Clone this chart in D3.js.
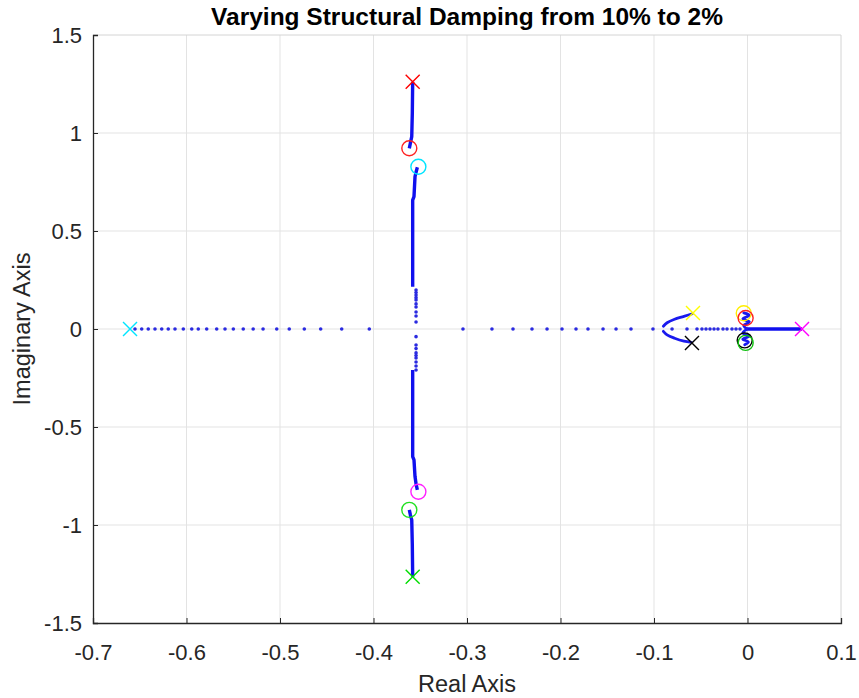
<!DOCTYPE html>
<html>
<head>
<meta charset="utf-8">
<script src="https://cdn.jsdelivr.net/npm/d3@7"></script>
<style>
  body { margin: 0; background: #fff; }
  text { font-family: "Liberation Sans", Arial, sans-serif; }
</style>
</head>
<body>
<div id="chart"></div>
<script>
// tick values
const xTicks = [-0.7, -0.6, -0.5, -0.4, -0.3, -0.2, -0.1, 0, 0.1];
const yTicks = [-1.5, -1, -0.5, 0, 0.5, 1, 1.5];

// sparse dots on the real axis (real parts, imag = 0)
const realDotsLeft = [-0.6551, -0.6479, -0.6409, -0.6337, -0.6265, -0.6195, -0.6123, -0.6034,
  -0.5944, -0.5874, -0.5784, -0.5677, -0.5588, -0.5499, -0.5393, -0.5287, -0.5181, -0.5035,
  -0.4901, -0.4740, -0.4565, -0.4340, -0.4045];
const realDotsRight = [-0.3043, -0.2733, -0.2508, -0.2305, -0.2144, -0.1984, -0.1834, -0.1706,
  -0.1545, -0.1406, -0.1246, -0.1011];
const realDotsNear = [-0.0807, -0.0647, -0.0540, -0.0487, -0.0444, -0.0401, -0.0358, -0.0316,
  -0.0262, -0.0219, -0.0166, -0.0123, -0.0080];

// sparse dots near the axis on the vertical branches [re, im]
const vertDots = [[-0.3545, 0.199], [-0.3545, 0.186], [-0.3545, 0.173], [-0.3545, 0.160],
  [-0.3545, 0.148], [-0.3545, 0.128], [-0.3545, 0.112], [-0.3545, 0.087], [-0.3545, 0.066],
  [-0.3545, 0.036], [-0.3545, -0.039], [-0.3545, -0.082], [-0.3545, -0.100], [-0.3545, -0.122],
  [-0.3545, -0.135], [-0.3545, -0.148], [-0.3545, -0.168], [-0.3545, -0.189], [-0.3545, -0.209]];

// dense branches drawn as lines [re, im]
const branchTop = [[-0.3581, 1.262], [-0.3585, 1.10], [-0.3591, 0.981], [-0.3605, 0.95], [-0.3617, 0.922]];
const branchBottom = [[-0.3581, -1.264], [-0.3585, -1.10], [-0.3591, -0.974], [-0.3605, -0.95], [-0.3617, -0.923]];
const branchUpperMid = [[-0.3531, 0.825], [-0.3545, 0.80], [-0.3556, 0.777], [-0.3567, 0.675],
  [-0.3581, 0.658], [-0.3581, 0.40], [-0.3581, 0.216]];
const branchLowerMid = [[-0.3531, -0.821], [-0.3545, -0.79], [-0.3556, -0.753], [-0.3567, -0.668],
  [-0.3581, -0.651], [-0.3581, -0.40], [-0.3581, -0.209]];
const arcUpper = [[-0.059, 0.078], [-0.068, 0.064], [-0.078, 0.050], [-0.086, 0.032], [-0.090, 0.014]];
const arcLower = [[-0.090, -0.012], [-0.086, -0.030], [-0.078, -0.047], [-0.068, -0.062], [-0.060, -0.068]];
const clusterUpper = [[-0.004, 0.082], [0.002, 0.070], [-0.005, 0.052], [0.002, 0.036], [-0.004, 0.018], [-0.001, 0.002]];
const clusterLower = [[-0.001, -0.002], [-0.005, -0.020], [0.002, -0.036], [-0.005, -0.052], [0.001, -0.066], [-0.003, -0.080]];
const realLineRight = [[-0.002, 0], [0.0583, 0]];

// start markers (x) and end markers (o)
const crossRe = [-0.3581, -0.3581, -0.6604, -0.0583, -0.0594, 0.0583];
const crossIm = [1.262, -1.264, 0, 0.082, -0.071, 0];
const crossColor = ["#ff0000", "#00dd00", "#00e5ff", "#ffff00", "#000000", "#ff00ff"];
const circRe = [-0.3617, -0.3617, -0.3520, -0.3520, -0.0040, -0.0020, -0.0030, -0.0020];
const circIm = [0.922, -0.923, 0.828, -0.830, 0.080, 0.056, -0.058, -0.071];
const circColor = ["#ff2020", "#20e020", "#00e5ff", "#ff20ff", "#ffee00", "#ff2020", "#000000", "#10c010"];

const W = 859, H = 698;
const margin = {left: 93, right: 18, top: 35, bottom: 75};

const svg = d3.select("#chart").append("svg")
  .attr("width", W).attr("height", H);

const x = d3.scaleLinear().domain([-0.7, 0.1]).range([margin.left, W - margin.right]);
const y = d3.scaleLinear().domain([-1.5, 1.5]).range([H - margin.bottom, margin.top]);

// grid
svg.append("g").selectAll("line").data(xTicks.slice(1, -1)).enter().append("line")
  .attr("x1", d => x(d)).attr("x2", d => x(d))
  .attr("y1", y(-1.5)).attr("y2", y(1.5))
  .attr("stroke", "#e3e3e3").attr("stroke-width", 1);
svg.append("g").selectAll("line").data(yTicks.slice(1, -1)).enter().append("line")
  .attr("x1", x(-0.7)).attr("x2", x(0.1))
  .attr("y1", d => y(d)).attr("y2", d => y(d))
  .attr("stroke", "#e3e3e3").attr("stroke-width", 1);

// box (top/right light)
svg.append("line").attr("x1", x(-0.7)).attr("x2", x(0.1)).attr("y1", y(1.5)).attr("y2", y(1.5))
  .attr("stroke", "#d4d4d4");
svg.append("line").attr("x1", x(0.1)).attr("x2", x(0.1)).attr("y1", y(1.5)).attr("y2", y(-1.5))
  .attr("stroke", "#d4d4d4");

// axes
const fmt = d => d3.format("")(d).replace("−", "-");
const xAxis = svg.append("g").attr("transform", `translate(0,${y(-1.5)})`)
  .call(d3.axisBottom(x).tickValues(xTicks).tickSize(-5).tickPadding(21).tickFormat(fmt));
const yAxis = svg.append("g").attr("transform", `translate(${x(-0.7)},0)`)
  .call(d3.axisLeft(y).tickValues(yTicks).tickSize(-5).tickPadding(11).tickFormat(fmt));
[xAxis, yAxis].forEach(a => {
  a.select(".domain").attr("stroke", "#262626").attr("stroke-width", 1.3);
  a.selectAll(".tick line").attr("stroke", "#262626");
  a.selectAll(".tick text").attr("fill", "#262626")
    .style("font-size", "22px").style("font-family", "'Liberation Sans', Arial, sans-serif");
});

// dense branches
const line = d3.line().x(d => x(d[0])).y(d => y(d[1]));
const plot = svg.append("g");
[branchTop, branchBottom, branchUpperMid, branchLowerMid, realLineRight].forEach(b => {
  plot.append("path").attr("d", line(b)).attr("fill", "none")
    .attr("stroke", "#1010ee").attr("stroke-width", 3.4).attr("stroke-linejoin", "round");
});
const curve = d3.line().x(d => x(d[0])).y(d => y(d[1])).curve(d3.curveCatmullRom);
[arcUpper, arcLower, clusterUpper, clusterLower].forEach(b => {
  plot.append("path").attr("d", curve(b)).attr("fill", "none")
    .attr("stroke", "#1a1aee").attr("stroke-width", 2.8).attr("stroke-linecap", "round");
});

// sparse dots
const dots = realDotsLeft.concat(realDotsRight, realDotsNear).map(r => [r, 0]).concat(vertDots);
plot.selectAll("circle.dot").data(dots).enter().append("circle")
  .attr("class", "dot")
  .attr("cx", d => x(d[0])).attr("cy", d => y(d[1]))
  .attr("r", 1.8).attr("fill", "#2a2ae0");

// end markers (circles)
plot.selectAll("circle.zero").data(circRe).enter().append("circle")
  .attr("class", "zero")
  .attr("cx", d => x(d)).attr("cy", (d, i) => y(circIm[i]))
  .attr("r", 7.5).attr("fill", "none")
  .attr("stroke", (d, i) => circColor[i]).attr("stroke-width", 1.4);

// start markers (crosses)
const s = 7;
const crosses = plot.selectAll("g.pole").data(crossRe).enter().append("g")
  .attr("class", "pole")
  .attr("transform", (d, i) => `translate(${x(d)},${y(crossIm[i])})`);
crosses.append("path")
  .attr("d", `M${-s},${-s}L${s},${s}M${-s},${s}L${s},${-s}`)
  .attr("stroke", (d, i) => crossColor[i]).attr("stroke-width", 1.4).attr("fill", "none");

// texts
svg.append("text").attr("x", (x(-0.7) + x(0.1)) / 2).attr("y", 25)
  .attr("text-anchor", "middle").style("font-size", "24.5px").style("font-weight", "bold")
  .attr("fill", "#000").text("Varying Structural Damping from 10% to 2%");
svg.append("text").attr("x", (x(-0.7) + x(0.1)) / 2).attr("y", 692)
  .attr("text-anchor", "middle").style("font-size", "23.5px").attr("fill", "#262626")
  .text("Real Axis");
svg.append("text").attr("transform", `translate(30,${y(0)}) rotate(-90)`)
  .attr("text-anchor", "middle").style("font-size", "23.5px").attr("fill", "#262626")
  .text("Imaginary Axis");
</script>
</body>
</html>
